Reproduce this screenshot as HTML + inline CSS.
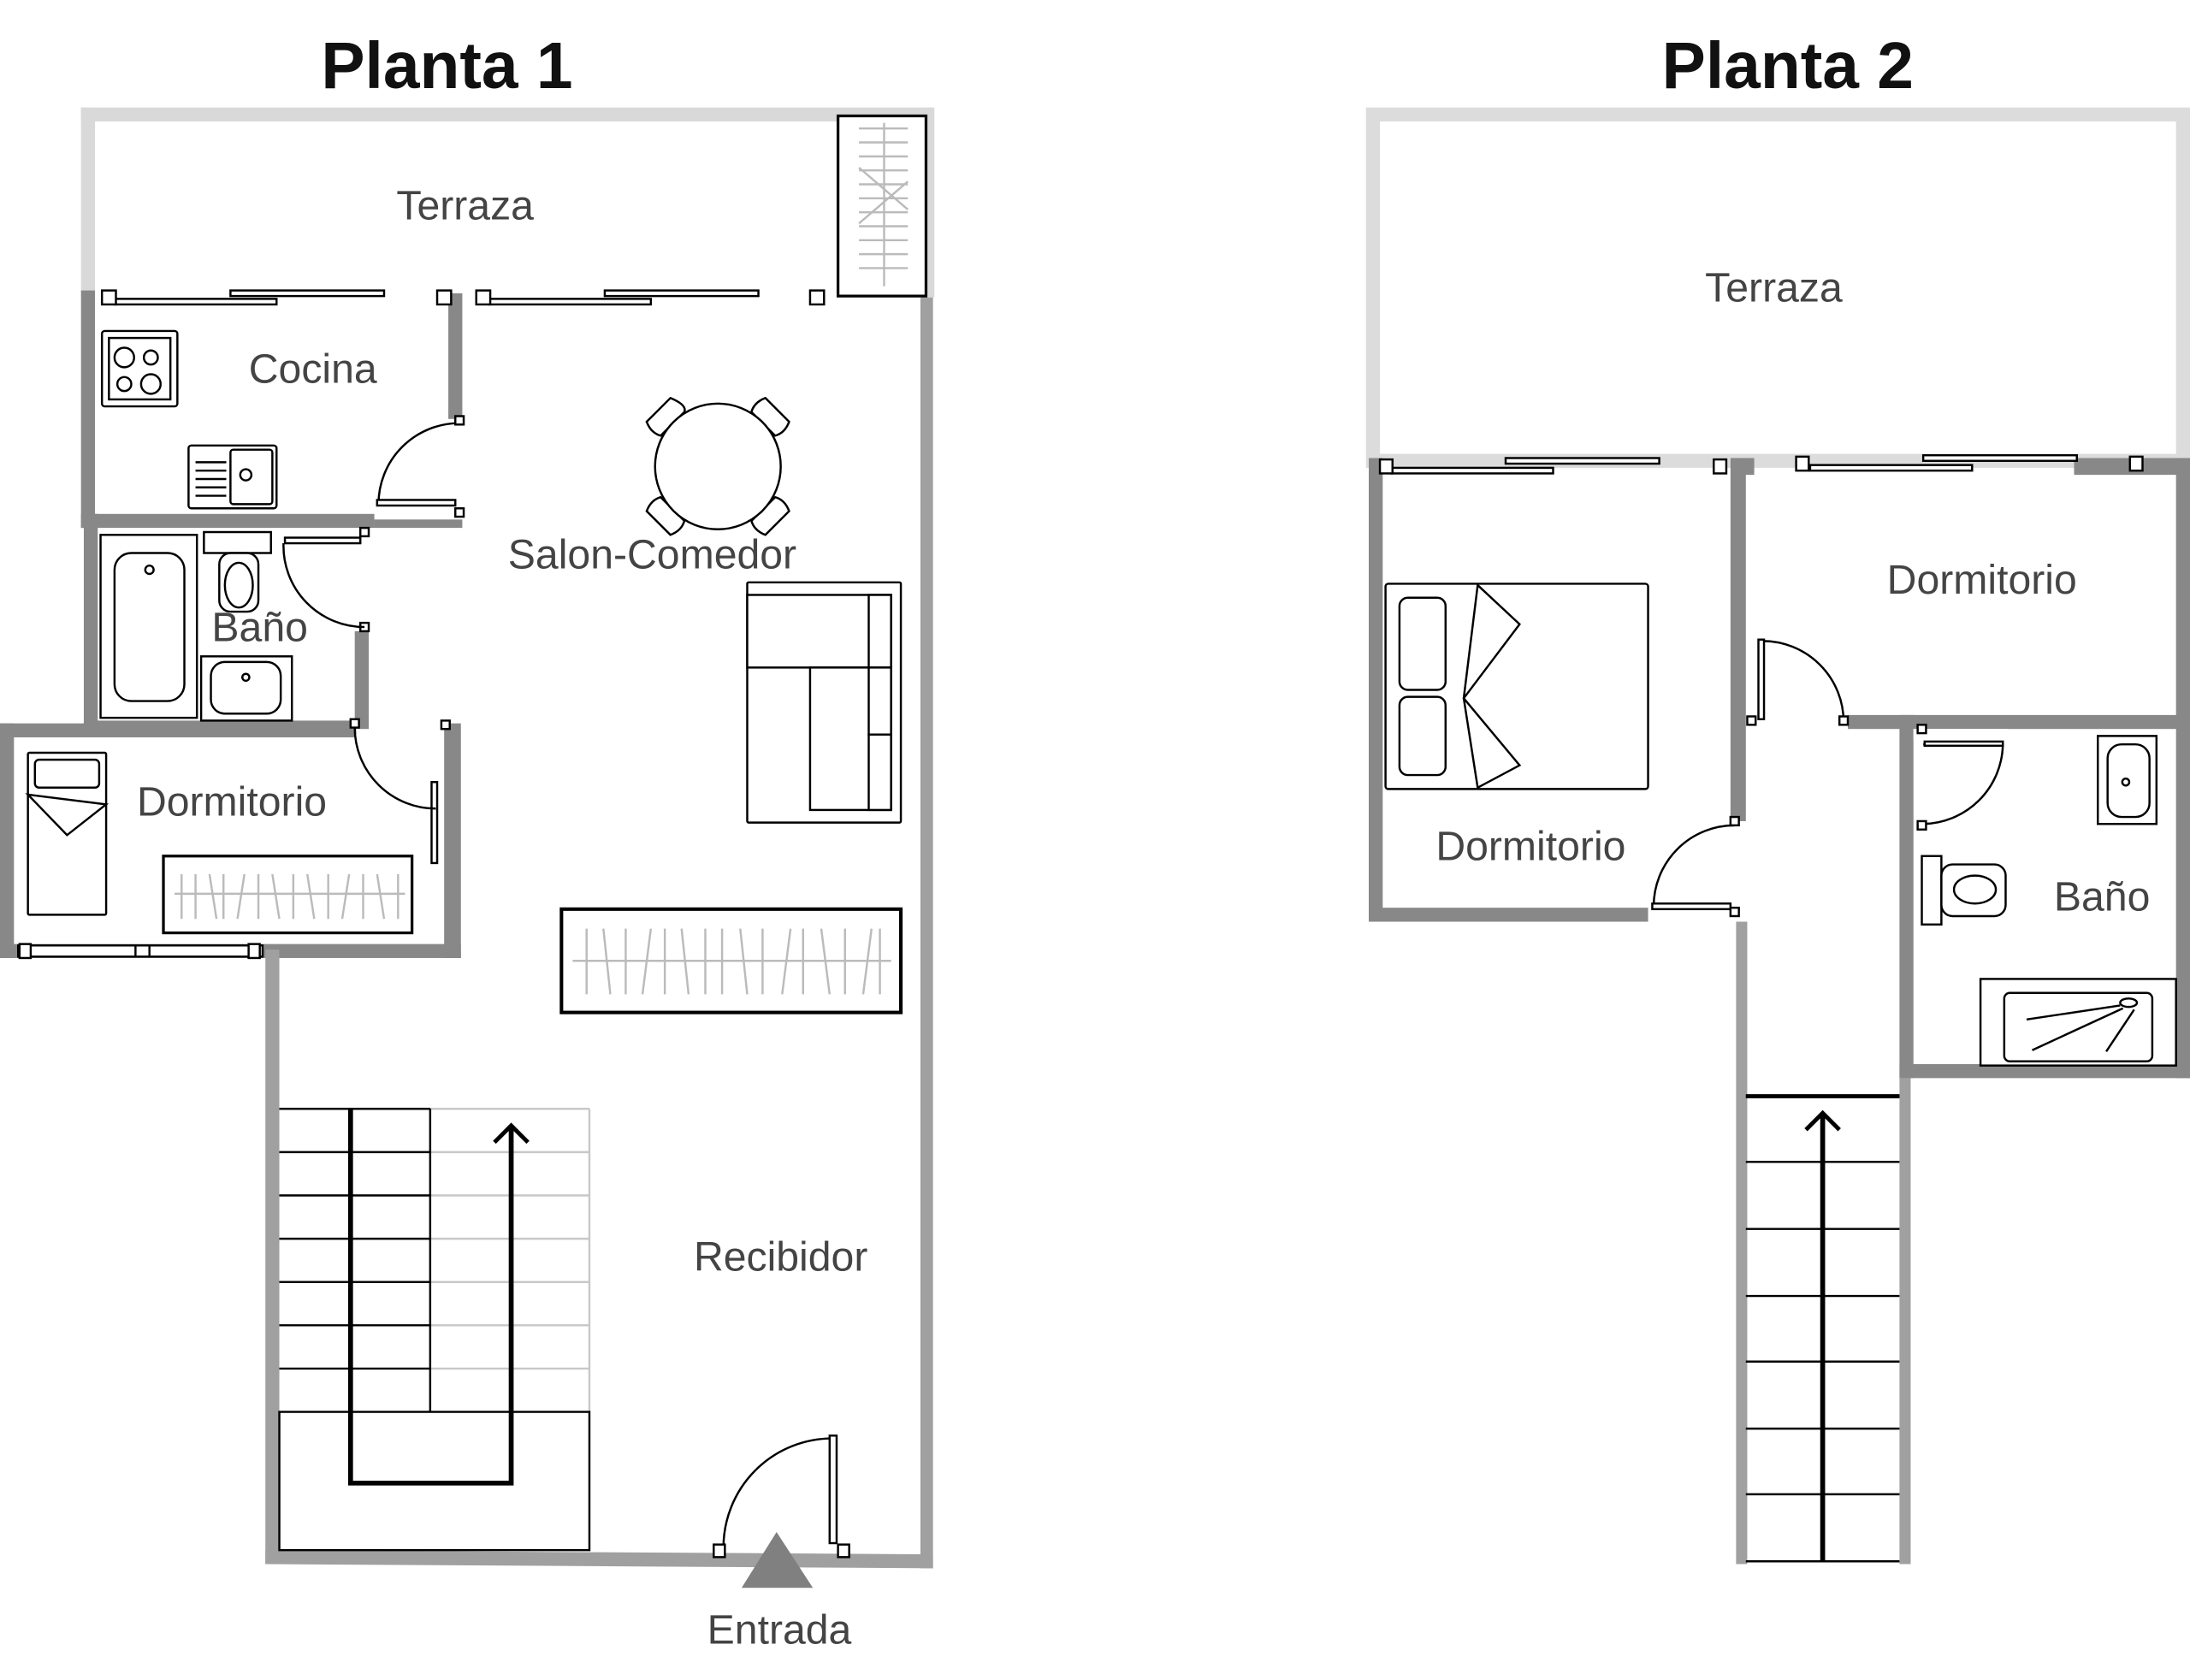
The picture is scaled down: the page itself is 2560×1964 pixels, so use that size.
<!DOCTYPE html>
<html><head><meta charset="utf-8"><style>
html,body{margin:0;padding:0;background:#fff;}
svg{display:block;}
text{font-family:"Liberation Sans",sans-serif;}
</style></head><body>
<svg width="2560" height="1964" viewBox="0 0 1568 1203" preserveAspectRatio="none" xmlns="http://www.w3.org/2000/svg">
<rect width="1568" height="1203" fill="#fff"/>
<text x="320" y="63" font-size="47" font-weight="bold" text-anchor="middle" fill="#111">Planta 1</text>
<text x="1280" y="63" font-size="47" font-weight="bold" text-anchor="middle" fill="#111">Planta 2</text>

<!-- PLANTA 1 terrace (light) -->
<g fill="#d9d9d9">
<rect x="58" y="77" width="610" height="10"/>
<rect x="58" y="77" width="10" height="133"/>
<rect x="660" y="77" width="9" height="136"/>
</g>
<g fill="#888">
<rect x="58" y="208" width="10" height="170"/>
<rect x="321" y="210" width="10" height="90"/>
<rect x="58" y="368" width="210" height="10"/>
<rect x="268" y="372" width="63" height="6"/>
<rect x="60" y="368" width="10" height="155"/>
<rect x="60" y="516" width="195" height="10"/>
<rect x="254" y="452" width="10" height="70"/>
<rect x="0" y="518" width="254" height="10"/>
<rect x="0" y="518" width="10" height="168"/>
<rect x="0" y="676" width="330" height="10"/>
<rect x="318" y="518" width="12" height="168"/>
</g>
<g fill="#a0a0a0">
<rect x="659" y="213" width="9" height="910"/>
<rect x="190" y="680" width="10" height="440"/>
<polygon points="190,1110 668,1113 668,1123 190,1120"/>
</g>
<g fill="#fff" stroke="#000" stroke-width="1.5">
<rect x="82" y="214" width="116" height="4"/>
<rect x="165" y="208" width="110" height="4"/>
<rect x="350" y="214" width="116" height="4"/>
<rect x="433" y="208" width="110" height="4"/>
<rect x="73" y="208" width="10" height="10"/>
<rect x="313" y="208" width="10" height="10"/>
<rect x="341" y="208" width="10" height="10"/>
<rect x="580" y="208" width="10" height="10"/>
<rect x="600" y="83" width="63" height="129" stroke-width="2"/>
</g>
<path d="M615,92 L650,92 M615,102 L650,102 M615,112 L650,112 M615,122 L650,122 M615,132 L650,132 M615,142 L650,142 M615,152 L650,152 M615,162 L650,162 M615,172 L650,172 M615,182 L650,182 M615,192 L650,192 M633,88 L633,205 M615,120 L650,150 M615,160 L650,130" stroke="#bbb" stroke-width="1.5" fill="none"/>
<text x="333" y="157" font-size="29.5" fill="#444" text-anchor="middle">Terraza</text>

<g fill="none" stroke="#000" stroke-width="1.5">
<rect x="73" y="237" width="54" height="54" rx="2"/>
<rect x="78" y="242" width="44" height="44"/>
<circle cx="89" cy="256" r="7"/><circle cx="108" cy="256" r="5"/>
<circle cx="89" cy="275" r="5"/><circle cx="108" cy="275" r="7"/>
<rect x="135" y="319" width="63" height="45" rx="2"/>
<rect x="165" y="322" width="30" height="39" rx="2"/>
<circle cx="176" cy="340" r="4"/>
<path d="M140,331 H162 M140,337 H162 M140,343 H162 M140,349 H162 M140,355 H162"/>
<path d="M329,303 A58,58 0 0 0 271,361"/>
</g>
<g fill="#fff" stroke="#000" stroke-width="1.5">
<rect x="270" y="358" width="56" height="4"/>
<rect x="326" y="298" width="6" height="6"/><rect x="326" y="364" width="6" height="6"/>
</g>
<text x="224" y="274" font-size="29.5" fill="#444" text-anchor="middle">Cocina</text>

<g fill="#fff" stroke="#000" stroke-width="1.5">
<path d="M463,302 L480,285 Q492,290 490,295 L473,312 Q466,310 463,302 Z"/>
<path d="M548,285 L565,302 Q562,310 555,312 L538,295 Q540,288 548,285 Z"/>
<path d="M463,366 Q466,358 473,356 L490,373 Q488,380 480,383 Z"/>
<path d="M565,366 L548,383 Q540,380 538,373 L555,356 Q562,358 565,366 Z"/>
<circle cx="514" cy="334" r="45"/>
</g>
<text x="467" y="407" font-size="29.5" fill="#444" text-anchor="middle">Salon-Comedor</text>

<g fill="#fff" stroke="#000" stroke-width="1.5">
<rect x="535" y="417" width="110" height="172" rx="1"/>
<rect x="535" y="426" width="103" height="52"/>
<rect x="580" y="478" width="58" height="102"/>
<rect x="622" y="426" width="16" height="52"/>
<rect x="622" y="478" width="16" height="48"/>
<rect x="622" y="526" width="16" height="54"/>
</g>

<g fill="#fff" stroke="#000" stroke-width="1.5">
<rect x="72" y="383" width="69" height="131"/>
<rect x="82" y="396" width="50" height="106" rx="12"/>
<circle cx="107" cy="408" r="3"/>
<rect x="146" y="381" width="48" height="15"/>
<rect x="157" y="396" width="28" height="42" rx="8"/>
<ellipse cx="171" cy="419" rx="10" ry="16"/>
<rect x="144" y="470" width="65" height="46"/>
<rect x="151" y="474" width="50" height="37" rx="10"/>
<circle cx="176" cy="485" r="2.5"/>
<rect x="204" y="385" width="54" height="4"/>
<rect x="258" y="378" width="6" height="6"/><rect x="258" y="446" width="6" height="6"/>
</g>
<path d="M203,389 A58,58 0 0 0 261,449" fill="none" stroke="#000" stroke-width="1.5"/>
<text x="186" y="459" font-size="29.5" fill="#444" text-anchor="middle">Baño</text>

<g fill="#fff" stroke="#000" stroke-width="1.5">
<rect x="20" y="539" width="56" height="116" rx="1"/>
<rect x="25" y="544" width="46" height="20" rx="3"/>
<path d="M20,569 L76,576 L48,598 Z" fill="none"/>
<rect x="117" y="613" width="178" height="55" stroke-width="2"/>
<rect x="309" y="560" width="4" height="58"/>
<rect x="251" y="515" width="6" height="6"/><rect x="316" y="516" width="6" height="6"/>
</g>
<path d="M254,521 A58,58 0 0 0 312,579" fill="none" stroke="#000" stroke-width="1.5"/>
<path d="M125,640 H290 M130,626 V658 M140,626 V658 M150,626 L155,658 M160,626 V658 M170,658 L175,626 M185,626 V658 M195,626 L200,658 M210,626 V658 M220,626 L225,658 M235,626 V658 M245,658 L250,626 M260,626 V658 M270,626 L275,658 M285,626 V658" stroke="#bbb" stroke-width="1.5" fill="none"/>
<g fill="#fff" stroke="#000" stroke-width="1.5">
<rect x="13" y="677" width="175" height="8"/>
<line x1="97" y1="677" x2="97" y2="685"/><line x1="107" y1="677" x2="107" y2="685"/>
<rect x="14" y="676" width="8" height="10"/><rect x="178" y="676" width="8" height="10"/>
</g>
<text x="166" y="584" font-size="29.5" fill="#444" text-anchor="middle">Dormitorio</text>

<rect x="402" y="651" width="243" height="74" fill="#fff" stroke="#000" stroke-width="2.5"/>
<path d="M410,688 H638 M420,665 V712 M432,665 L437,712 M448,665 V712 M460,712 L466,665 M476,665 V712 M488,665 L493,712 M505,665 V712 M517,665 V712 M530,665 L535,712 M546,665 V712 M560,712 L566,665 M575,665 V712 M588,665 L594,712 M605,665 V712 M618,712 L624,665 M630,665 V712" stroke="#bbb" stroke-width="1.5" fill="none"/>

<g fill="none" stroke="#c8c8c8" stroke-width="1.5">
<path d="M308,794 H422 M308,825 H422 M308,856 H422 M308,887 H422 M308,918 H422 M308,949 H422 M308,980 H422 M422,794 V1011"/>
</g>
<g fill="none" stroke="#000" stroke-width="1.5">
<path d="M200,794 H308 M200,825 H308 M200,856 H308 M200,887 H308 M200,918 H308 M200,949 H308 M200,980 H308 M308,794 V1011"/>
<rect x="200" y="1011" width="222" height="99"/>
</g>
<path d="M251,794 V1062 H366 V806" fill="none" stroke="#000" stroke-width="3.5"/>
<path d="M354,818 L366,806 L378,818" fill="none" stroke="#000" stroke-width="3"/>
<text x="559" y="910" font-size="29.5" fill="#444" text-anchor="middle">Recibidor</text>

<path d="M518,1108 A78,78 0 0 1 596,1030" fill="none" stroke="#000" stroke-width="1.5"/>
<g fill="#fff" stroke="#000" stroke-width="1.5">
<rect x="594" y="1028" width="5" height="77"/>
<rect x="511" y="1106" width="8" height="9"/><rect x="600" y="1106" width="8" height="9"/>
</g>
<polygon points="556,1097 531,1137 582,1137" fill="#808080"/>
<text x="558" y="1177" font-size="29.5" fill="#444" text-anchor="middle">Entrada</text>

<!-- PLANTA 2 -->
<g fill="none" stroke="#dcdcdc" stroke-width="10">
<rect x="983" y="82" width="580" height="248"/>
</g>
<text x="1270" y="216" font-size="29.5" fill="#444" text-anchor="middle">Terraza</text>
<g fill="#888">
<rect x="980" y="328" width="10" height="332"/>
<rect x="980" y="650" width="200" height="10"/>
<rect x="1239" y="328" width="11" height="260"/>
<rect x="1240" y="328" width="16" height="12"/>
<rect x="1558" y="328" width="10" height="444"/>
<rect x="1323" y="512" width="245" height="10"/>
<rect x="1360" y="512" width="10" height="260"/>
<rect x="1360" y="762" width="208" height="10"/>
<rect x="1485" y="328" width="83" height="12"/>
</g>
<g fill="#a0a0a0">
<rect x="1243" y="660" width="8" height="460"/>
<rect x="1360" y="772" width="8" height="348"/>
</g>
<g fill="#fff" stroke="#000" stroke-width="1.5">
<rect x="996" y="335" width="116" height="4"/>
<rect x="1078" y="328" width="110" height="4"/>
<rect x="1296" y="333" width="116" height="4"/>
<rect x="1377" y="326" width="110" height="4"/>
<rect x="988" y="329" width="9" height="10"/>
<rect x="1227" y="329" width="9" height="10"/>
<rect x="1286" y="327" width="9" height="10"/>
<rect x="1525" y="327" width="9" height="10"/>
</g>
<g fill="#fff" stroke="#000" stroke-width="1.5">
<rect x="992" y="418" width="188" height="147" rx="2"/>
<rect x="1002" y="428" width="33" height="66" rx="6"/>
<rect x="1002" y="499" width="33" height="56" rx="6"/>
<path d="M1058,419 L1088,447 L1048,500 L1088,548 L1058,564 L1048,500 Z" fill="none"/>
</g>
<text x="1096" y="616" font-size="29.5" fill="#444" text-anchor="middle">Dormitorio</text>
<path d="M1242,591 A58,58 0 0 0 1184,649" fill="none" stroke="#000" stroke-width="1.5"/>
<g fill="#fff" stroke="#000" stroke-width="1.5">
<rect x="1183" y="647" width="56" height="4"/>
<rect x="1239" y="585" width="6" height="6"/><rect x="1239" y="650" width="6" height="6"/>
</g>
<text x="1419" y="425" font-size="29.5" fill="#444" text-anchor="middle">Dormitorio</text>
<path d="M1262,459 A58,58 0 0 1 1320,517" fill="none" stroke="#000" stroke-width="1.5"/>
<g fill="#fff" stroke="#000" stroke-width="1.5">
<rect x="1259" y="458" width="4" height="57"/>
<rect x="1251" y="513" width="6" height="6"/><rect x="1317" y="513" width="6" height="6"/>
</g>
<rect x="1370" y="522" width="68" height="8" fill="#fff"/>
<path d="M1377,533 H1434 A58,58 0 0 1 1377,590" fill="none" stroke="#000" stroke-width="1.5"/>
<g fill="#fff" stroke="#000" stroke-width="1.5">
<rect x="1378" y="531" width="56" height="3"/>
<rect x="1373" y="519" width="6" height="6"/><rect x="1373" y="588" width="6" height="6"/>
<rect x="1502" y="527" width="42" height="63"/>
<rect x="1509" y="533" width="30" height="52" rx="10"/>
<circle cx="1522" cy="560" r="2.5"/>
<rect x="1376" y="613" width="14" height="49"/>
<rect x="1390" y="619" width="46" height="37" rx="8"/>
<ellipse cx="1414" cy="637" rx="15" ry="10"/>
<rect x="1418" y="701" width="140" height="62"/>
<rect x="1435" y="711" width="106" height="49" rx="4"/>
<ellipse cx="1524" cy="718" rx="6" ry="3"/>
</g>
<path d="M1451,730 L1518,720 M1455,752 L1520,722 M1508,753 L1528,723" stroke="#000" stroke-width="1.5" fill="none"/>
<text x="1505" y="652" font-size="29.5" fill="#444" text-anchor="middle">Baño</text>
<g stroke="#000" stroke-width="1.5" fill="none">
<path d="M1250,785 H1360 M1250,832 H1360 M1250,880 H1360 M1250,928 H1360 M1250,975 H1360 M1250,1023 H1360 M1250,1070 H1360 M1250,1118 H1360"/>
</g>
<line x1="1250" y1="785" x2="1360" y2="785" stroke="#000" stroke-width="3"/>
<path d="M1305,1118 V797" stroke="#000" stroke-width="3.5" fill="none"/>
<path d="M1293,809 L1305,797 L1317,809" stroke="#000" stroke-width="3" fill="none"/>
</svg>
</body></html>
